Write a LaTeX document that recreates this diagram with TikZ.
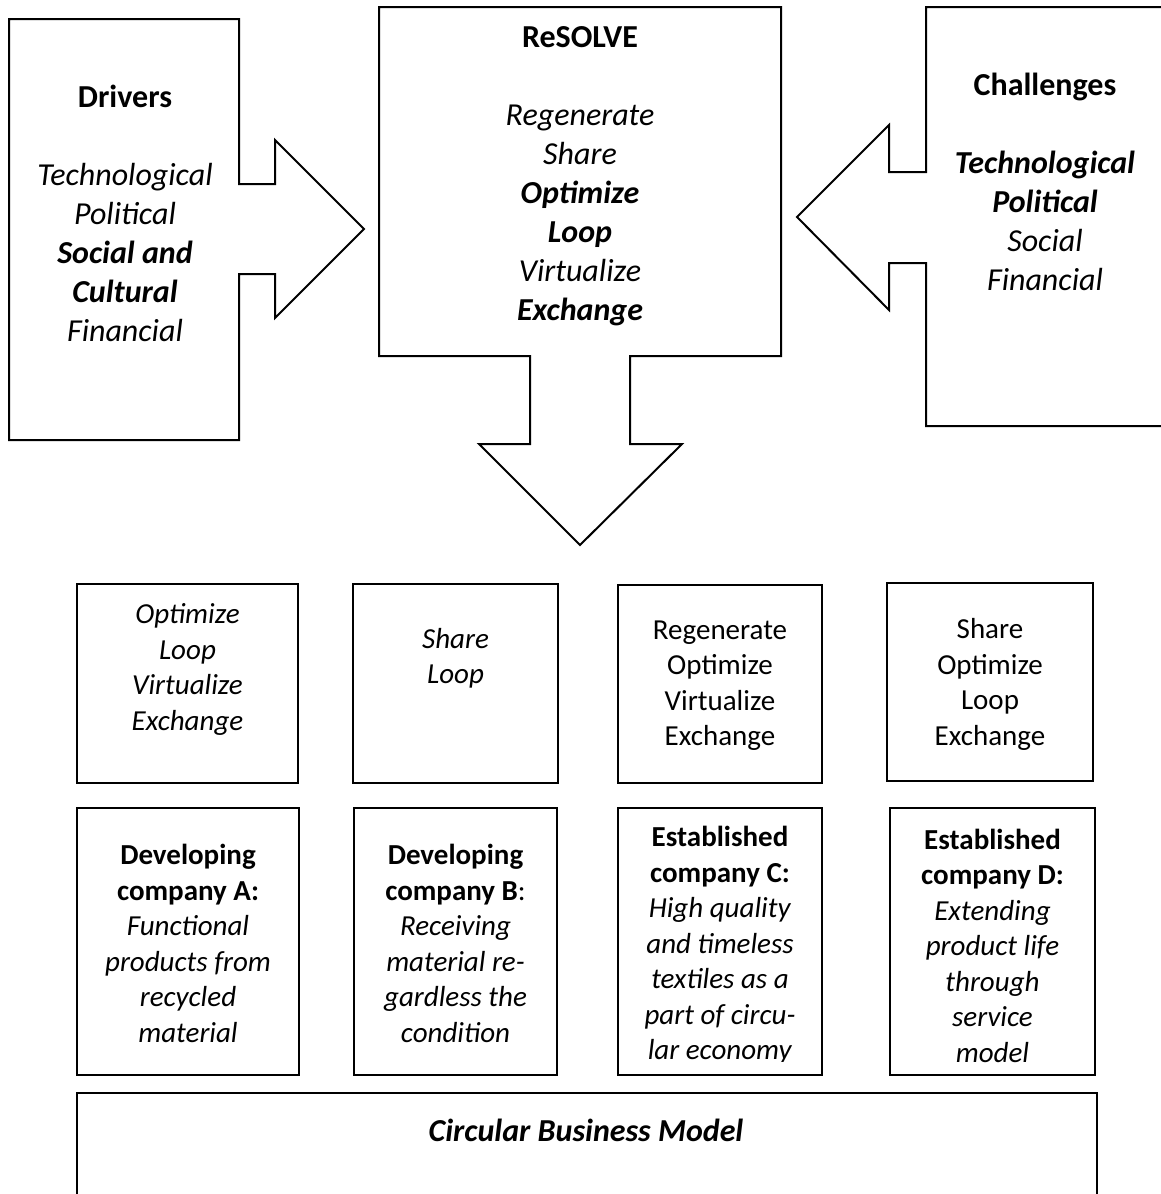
\documentclass[tikz,border=0pt]{standalone}
\usepackage{fontspec}
\setmainfont{Carlito}
\begin{document}
\begin{tikzpicture}[x=1pt,y=-1pt,line width=2pt,line join=miter,
  big/.style={font=\fontsize{32}{39}\selectfont, align=center, inner sep=0pt},
  small/.style={font=\fontsize{29}{35.5}\selectfont, align=center, inner sep=0pt},
  boxsty/.style={draw, line width=2pt, inner sep=0pt}]
\useasboundingbox (0,0) rectangle (1161,1194);

% Drivers callout (right arrow)
\draw (9,19) -- (239,19) -- (239,184) -- (275,184) -- (275,140) -- (364,229)
  -- (275,318) -- (275,274) -- (239,274) -- (239,440) -- (9,440) -- cycle;
% ReSOLVE callout (down arrow)
\draw (379,7) -- (781,7) -- (781,356) -- (630,356) -- (630,444) -- (682,444)
  -- (580,545) -- (479,444) -- (530,444) -- (530,356) -- (379,356) -- cycle;
% Challenges callout (left arrow), cut at right edge
\draw (1175,7) -- (926,7) -- (926,172) -- (889,172) -- (889,125) -- (797,217)
  -- (889,310) -- (889,263) -- (926,263) -- (926,426) -- (1175,426);

\node[big] (drvtxt) at (125,213.5) {\textbf{Drivers}\\[39pt]
  \textit{Technological}\\ \textit{Political}\\ \textbf{\textit{Social and}}\\
  \textbf{\textit{Cultural}}\\ \textit{Financial}};
\node[big] (restxt) at (580,176.5) {\textbf{ReSOLVE}\\[39pt]
  \textit{Regenerate}\\ \textit{Share}\\ \textbf{\textit{Optimize}}\\
  \textbf{\textit{Loop}}\\ \textit{Virtualize}\\ \textbf{\textit{Exchange}}};
\node[big] (chltxt) at (1045,181.5) {\textbf{Challenges}\\[39pt]
  \textbf{\textit{Technological}}\\ \textbf{\textit{Political}}\\
  \textit{Social}\\ \textit{Financial}};

% Row 1 boxes
\node[boxsty, minimum width=221pt, minimum height=199pt] (s1) at (187.5,683.5) {};
\node[boxsty, minimum width=205pt, minimum height=199pt] (s2) at (455.5,683.5) {};
\node[boxsty, minimum width=204pt, minimum height=198pt] (s3) at (720,684) {};
\node[boxsty, minimum width=206pt, minimum height=198pt] (s4) at (990,682) {};

\node[small] (s1t) at (187.5,669.5) {\textit{Optimize}\\ \textit{Loop}\\ \textit{Virtualize}\\ \textit{Exchange}};
\node[small] (s2t) at (455.5,658.5) {\textit{Share}\\ \textit{Loop}};
\node[small] (s3t) at (720,685.5) {Regenerate\\ Optimize\\ Virtualize\\ Exchange};
\node[small] (s4t) at (990,684.5) {Share\\ Optimize\\ Loop\\ Exchange};

% Row 2 boxes
\node[boxsty, minimum width=222pt, minimum height=267pt] (ca) at (188,941.5) {};
\node[boxsty, minimum width=203pt, minimum height=267pt] (cb) at (455.5,941.5) {};
\node[boxsty, minimum width=204pt, minimum height=267pt] (cc) at (720,941.5) {};
\node[boxsty, minimum width=205pt, minimum height=267pt] (cd) at (992.5,941.5) {};

\node[small] (cat) at (188,943.5) {\textbf{Developing}\\ \textbf{company A:}\\
  \textit{Functional}\\ \textit{products from}\\ \textit{recycled}\\ \textit{material}};
\node[small] (cbt) at (455.5,943.5) {\textbf{Developing}\\ \textbf{company B}:\\
  \textit{Receiving}\\ \textit{material re-}\\ \textit{gardless the}\\ \textit{condition}};
\begin{scope}
  \clip (618,808) rectangle (822,1061);
  \node[small] (cct) at (720,945.5) {\textbf{Established}\\ \textbf{company C:}\\
    \textit{High quality}\\ \textit{and timeless}\\ \textit{textiles as a}\\
    \textit{part of circu-}\\ \textit{lar economy}};
\end{scope}
\node[small] (cdt) at (992.5,945.5) {\textbf{Established}\\ \textbf{company D:}\\
  \textit{Extending}\\ \textit{product life}\\ \textit{through}\\ \textit{service}\\ \textit{model}};

% Circular Business Model box (cut at bottom)
\draw (77,1205) -- (77,1093) -- (1097,1093) -- (1097,1205);
\node[font=\fontsize{32}{39}\selectfont\bfseries\itshape, inner sep=0pt] (cbm) at (586,1130) {Circular Business Model};
\end{tikzpicture}
\end{document}
